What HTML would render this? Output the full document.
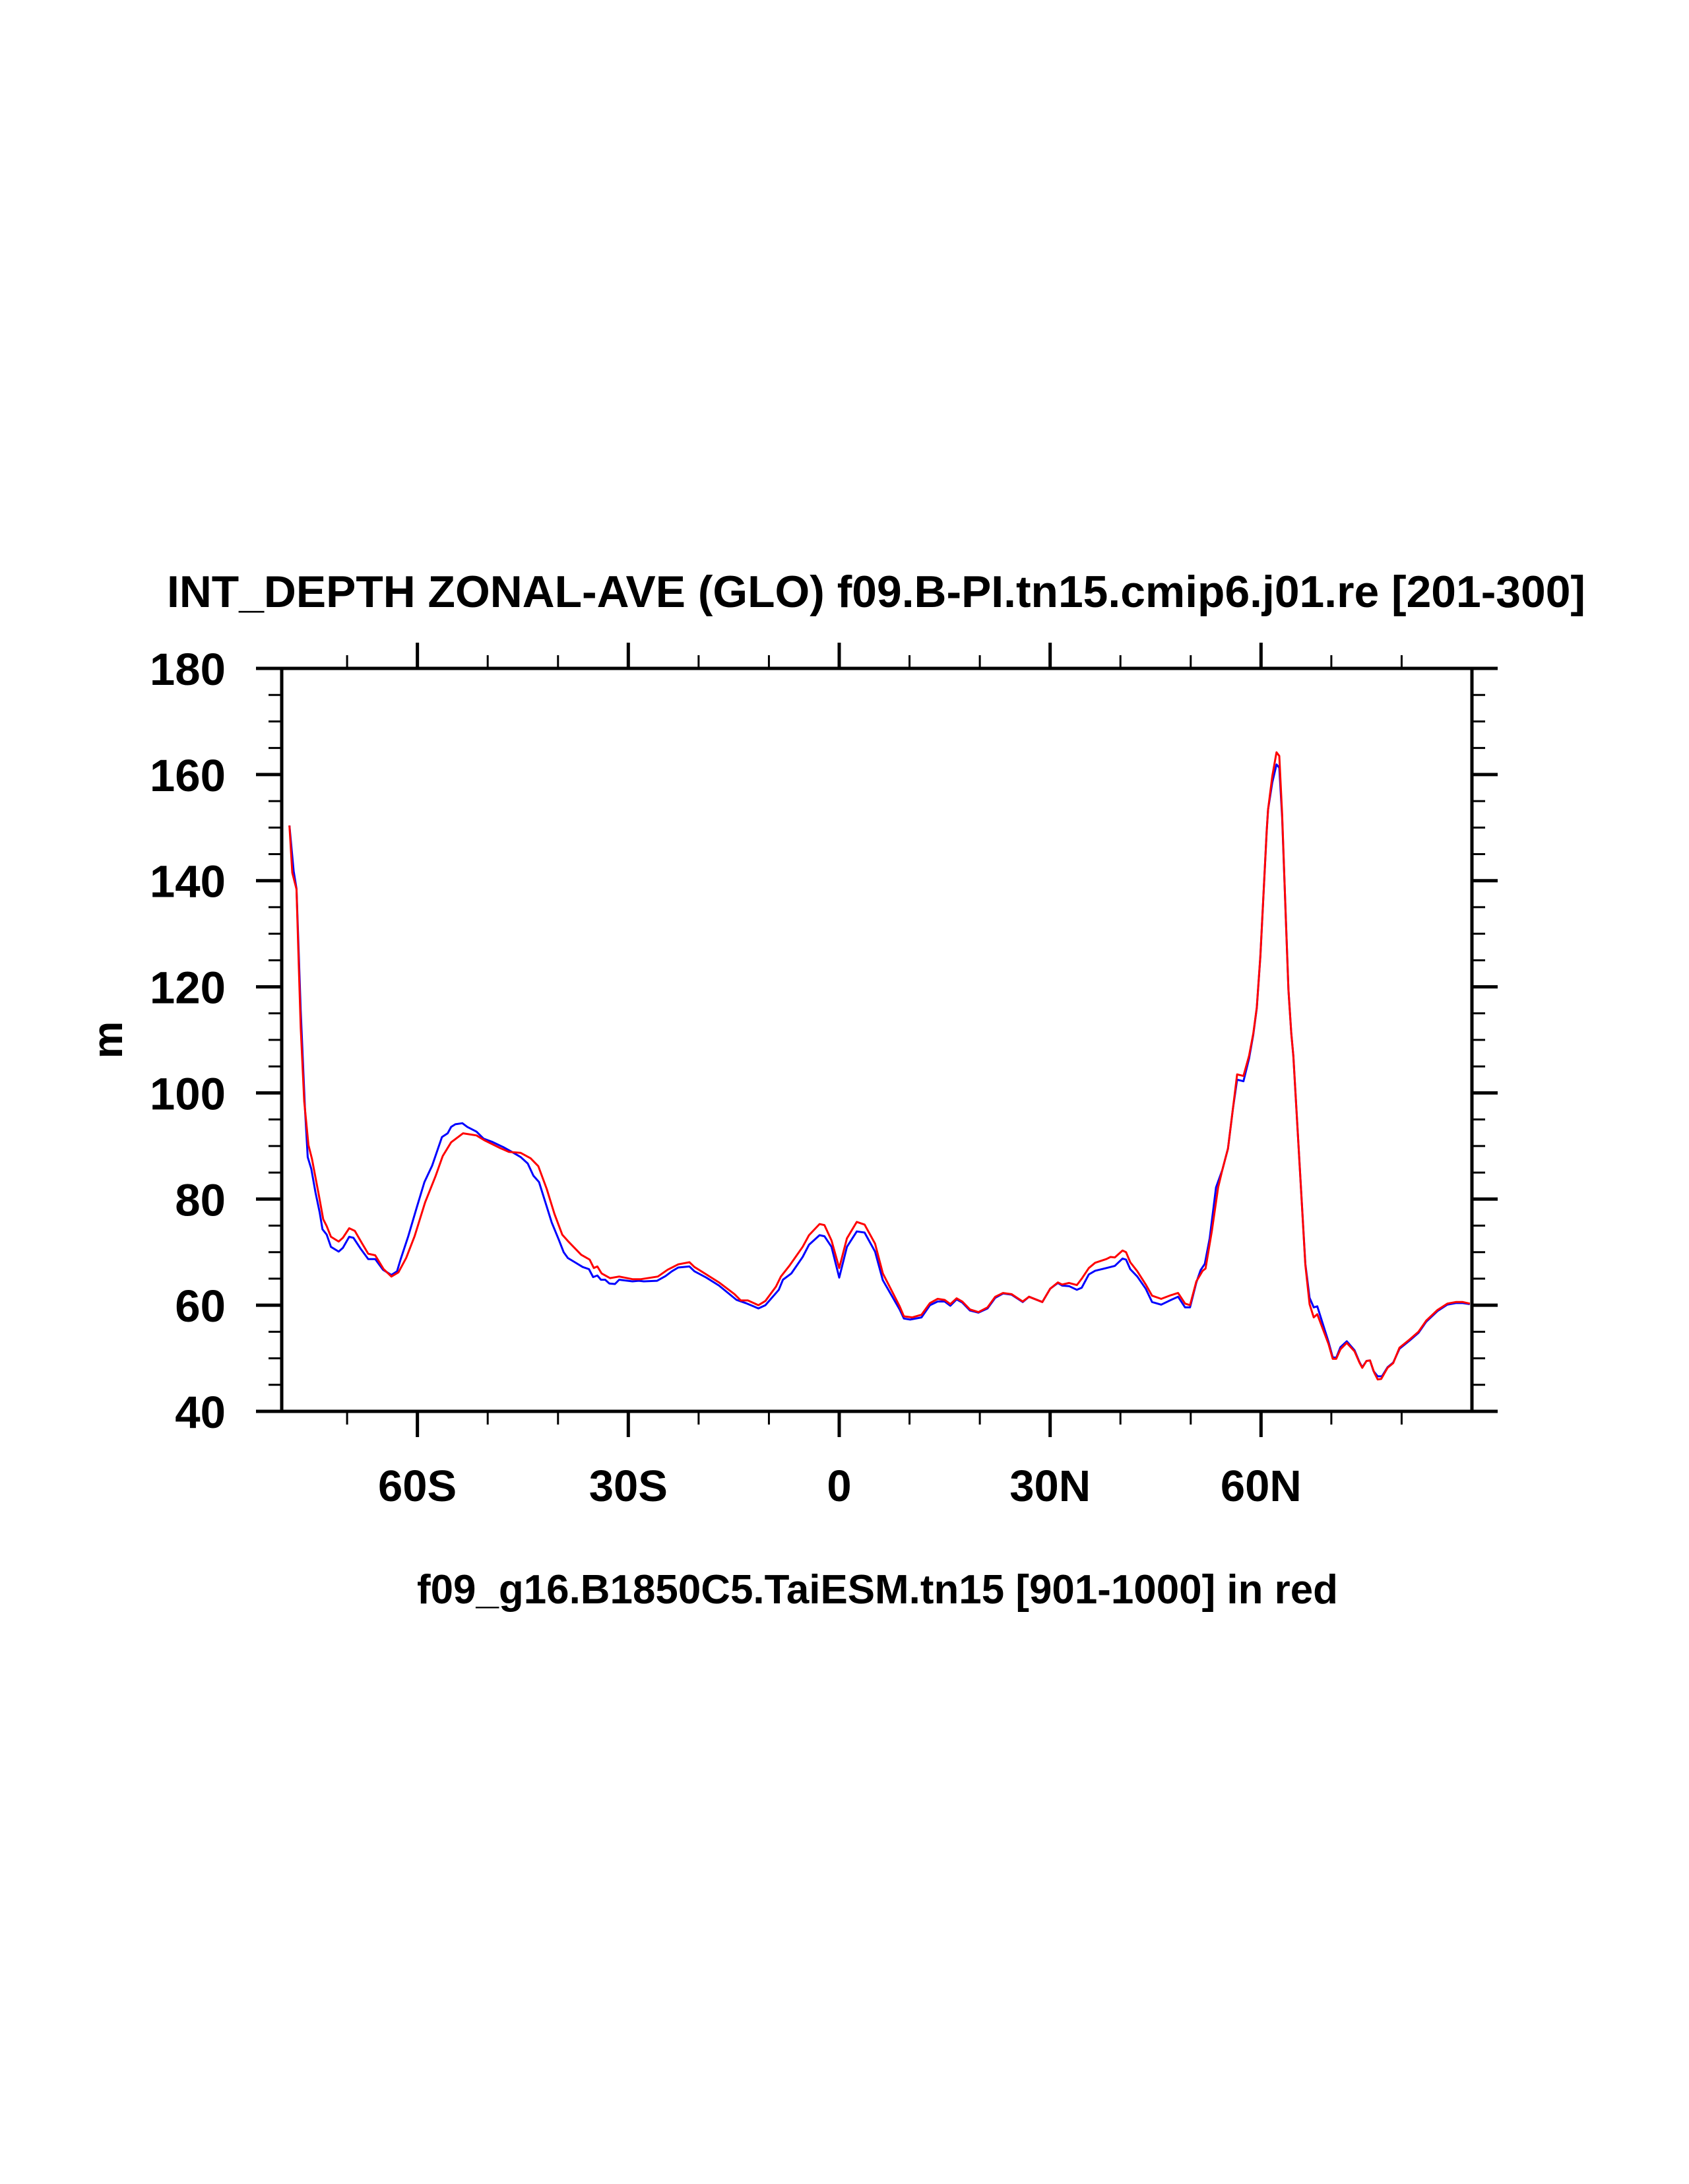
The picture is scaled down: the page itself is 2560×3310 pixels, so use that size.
<!DOCTYPE html>
<html><head><meta charset="utf-8"><style>html,body{margin:0;padding:0;background:#fff}svg{display:block}</style></head>
<body>
<svg id="chart" width="2560" height="3310" viewBox="0 0 2560 3310" xmlns="http://www.w3.org/2000/svg" font-family="'Liberation Sans', sans-serif" font-weight="bold">
<rect x="0" y="0" width="2560" height="3310" fill="#fff"/>
<text x="253" y="920" font-size="68" textLength="2150" lengthAdjust="spacingAndGlyphs">INT_DEPTH ZONAL-AVE (GLO) f09.B-PI.tn15.cmip6.j01.re [201-300]</text>
<text transform="translate(185,1576) rotate(-90)" text-anchor="middle" font-size="64">m</text>
<text x="1330" y="2430" text-anchor="middle" font-size="62" textLength="1396" lengthAdjust="spacingAndGlyphs">f09_g16.B1850C5.TaiESM.tn15 [901-1000] in red</text>
<g id="ticks"></g>
<g id="labels"></g>
<g id="series"></g>
<rect x="427" y="1013" width="1804" height="1126" fill="none" stroke="#000" stroke-width="5"/>
</svg>
<script>
const yTicks = [40, 60, 80, 100, 120, 140, 160, 180];
const yTickLabels = ["40", "60", "80", "100", "120", "140", "160", "180"];
const xTicks = [-60, -30, 0, 30, 60];
const xTickLabels = ["60S", "30S", "0", "30N", "60N"];
const xMinor = [-70, -50, -40, -20, -10, 10, 20, 40, 50, 70, 80];
const latRed = [-78.2,-77.8,-77.2,-76.9,-76.6,-76.1,-75.5,-75.0,-74.0,-73.4,-72.9,-72.3,-71.2,-70.6,-69.7,-68.9,-67.9,-67.0,-66.0,-64.8,-63.7,-62.7,-61.6,-60.4,-58.9,-57.4,-56.4,-55.2,-53.5,-51.6,-50.5,-48.2,-47.0,-45.3,-43.9,-42.8,-41.6,-40.5,-39.4,-38.6,-36.7,-35.5,-34.9,-34.4,-33.8,-32.6,-31.3,-29.4,-28.2,-25.8,-24.4,-22.9,-21.3,-20.6,-18.9,-17.1,-14.9,-14.0,-13.0,-11.5,-10.5,-9.0,-8.3,-7.1,-5.2,-4.3,-2.8,-2.1,-1.1,0.0,1.1,2.5,3.6,5.1,6.2,8.6,9.2,10.4,11.7,12.9,14.0,15.0,15.8,16.7,17.5,18.6,19.8,21.1,22.2,23.3,24.5,26.1,27.0,28.9,30.0,31.1,31.7,32.7,33.8,34.5,35.5,36.4,38.0,38.6,39.2,40.3,40.8,41.4,42.4,43.6,44.5,45.8,47.2,48.2,49.2,49.9,50.8,51.7,52.1,53.0,53.9,54.5,55.3,56.0,56.6,57.5,58.3,58.9,59.4,59.9,60.3,60.8,61.0,61.6,62.2,62.6,63.0,63.5,63.9,64.3,64.6,65.5,66.3,66.9,67.5,68.0,69.6,70.2,70.7,71.3,72.2,73.3,74.0,74.4,75.0,75.5,76.1,76.6,77.1,78.0,78.8,79.7,81.1,82.4,83.5,85.1,86.5,87.7,88.7,89.7];
const valRed = [150.4,141.5,138.4,125.0,112.3,98.4,90.2,87.6,80.6,76.2,74.9,72.9,72.0,72.7,74.5,74.0,71.7,69.7,69.4,66.8,65.4,66.2,68.9,73.0,79.4,84.4,88.1,90.7,92.4,92.0,91.1,89.6,88.9,88.7,87.7,86.2,81.9,77.2,73.3,72.1,69.5,68.6,67.0,67.3,66.0,65.1,65.4,64.9,64.9,65.4,66.7,67.7,68.1,67.2,65.8,64.3,62.1,60.9,60.9,60.0,60.8,63.5,65.4,67.4,71.0,73.2,75.3,75.1,72.2,67.0,72.6,75.7,75.2,71.6,66.0,59.8,57.9,57.7,58.2,60.4,61.2,61.0,60.2,61.3,60.7,59.2,58.7,59.6,61.6,62.3,62.1,60.7,61.6,60.6,63.1,64.3,63.9,64.2,63.8,65.0,67.0,68.0,68.7,69.1,69.0,70.3,70.0,68.1,66.4,63.9,61.8,61.2,61.9,62.3,60.3,60.0,64.5,66.5,66.9,73.9,82.2,85.5,89.5,97.0,103.5,103.2,107.0,111.2,116.1,125.7,136.0,149.3,153.4,159.7,164.2,163.5,152.6,133.9,119.4,111.2,107.0,86.3,67.6,60.2,57.7,58.3,52.7,49.9,49.9,51.7,52.9,51.3,49.2,48.2,49.5,49.6,47.3,46.0,46.1,48.2,49.1,52.0,53.5,55.0,57.1,59.1,60.3,60.6,60.6,60.3];
const latBlue = [-78.2,-77.6,-77.2,-76.6,-76.0,-75.6,-75.1,-74.5,-73.9,-73.5,-72.9,-72.3,-71.2,-70.6,-69.7,-69.1,-68.1,-67.0,-66.0,-64.9,-63.7,-62.9,-62.4,-61.3,-60.1,-59.0,-57.9,-56.5,-55.7,-55.2,-54.6,-53.6,-52.9,-51.6,-50.6,-49.4,-47.8,-46.7,-45.3,-44.3,-43.5,-42.7,-41.8,-40.9,-39.9,-39.2,-38.6,-37.6,-36.5,-35.6,-35.0,-34.4,-33.9,-33.3,-32.7,-31.9,-31.3,-29.4,-28.5,-27.8,-25.9,-24.7,-23.8,-22.9,-21.3,-20.6,-18.9,-17.1,-14.6,-13.3,-11.5,-10.5,-8.6,-8.0,-6.8,-5.2,-4.3,-2.8,-2.1,-1.1,0.0,1.1,2.5,3.6,5.1,6.2,8.6,9.2,10.1,11.7,12.9,14.0,15.0,15.8,16.7,17.5,18.6,19.8,21.1,22.2,23.3,24.5,26.1,27.0,28.9,30.0,31.1,31.7,32.7,33.8,34.5,35.5,36.4,38.0,39.2,40.3,40.8,41.4,42.4,43.6,44.5,45.8,47.2,48.2,49.2,49.9,50.8,51.4,52.0,52.7,53.6,54.5,55.3,56.0,56.6,57.5,58.3,58.9,59.4,59.9,60.3,60.8,61.0,61.6,62.2,62.6,63.0,63.5,63.9,64.3,64.6,65.5,66.3,66.9,67.5,68.0,69.6,70.2,70.7,71.3,72.2,73.3,74.0,74.4,75.0,75.5,76.0,76.6,77.2,78.0,78.8,79.7,81.1,82.4,83.5,85.1,86.5,87.7,88.7,89.7];
const valBlue = [150.4,141.8,138.5,115.5,97.1,87.9,85.7,81.3,77.5,74.3,73.3,71.0,70.1,70.8,72.9,72.7,70.7,68.7,68.7,66.7,65.7,66.4,68.6,73.0,78.4,83.2,86.3,91.7,92.4,93.6,94.1,94.3,93.6,92.7,91.4,90.8,89.8,89.0,87.9,86.7,84.4,83.2,79.4,75.6,72.4,70.0,68.9,68.1,67.2,66.8,65.3,65.6,64.8,64.8,64.1,64.0,64.8,64.5,64.6,64.5,64.6,65.5,66.4,67.1,67.3,66.4,65.2,63.7,61.0,60.4,59.4,60.0,62.9,64.8,66.0,69.1,71.4,73.2,73.0,71.0,65.2,71.0,73.9,73.7,70.1,64.7,59.2,57.5,57.3,57.7,60.0,60.7,60.7,59.9,61.1,60.5,59.0,58.6,59.4,61.4,62.2,62.0,60.6,61.6,60.6,63.1,64.2,63.7,63.6,62.9,63.3,65.8,66.5,67.0,67.4,68.8,68.6,66.8,65.4,63.1,60.6,60.1,61.0,61.6,59.6,59.6,64.3,66.6,67.8,72.6,82.2,85.5,89.5,97.0,102.5,102.2,106.5,111.0,116.0,125.7,136.0,149.3,153.4,158.5,161.9,161.3,152.0,134.0,119.4,111.2,107.0,86.3,67.8,61.4,59.6,59.8,53.1,50.2,50.1,52.1,53.2,51.5,49.3,48.3,49.5,49.6,47.6,46.6,46.6,48.3,49.2,51.8,53.3,54.8,56.9,58.9,60.1,60.4,60.4,60.2];

const X0 = 427, X1 = 2231, Y0 = 2139, Y1 = 1013;
const xMin = -79.3, xMax = 90, yMin = 40, yMax = 180;
function xs(v){ return X0 + (v - xMin) / (xMax - xMin) * (X1 - X0); }
function ys(v){ return Y0 - (v - yMin) / (yMax - yMin) * (Y0 - Y1); }
const NS = "http://www.w3.org/2000/svg";
const tg = document.getElementById('ticks');
const lg = document.getElementById('labels');
const sg = document.getElementById('series');
function line(x1,y1,x2,y2,w,name){
  const l = document.createElementNS(NS,'line');
  l.setAttribute('x1',x1); l.setAttribute('y1',y1); l.setAttribute('x2',x2); l.setAttribute('y2',y2);
  l.setAttribute('stroke','#000'); l.setAttribute('stroke-width',w);
  
  
  tg.appendChild(l);
}
yTicks.forEach((v,i)=>{
  const y = ys(v);
  line(X0-39,y,X0,y,5,'y-major-tick');
  line(X1,y,X1+39,y,5,'y-major-tick-right');
  const t = document.createElementNS(NS,'text');
  t.setAttribute('x',342); t.setAttribute('y',y+25);
  t.setAttribute('text-anchor','end'); t.setAttribute('font-size','69');
  t.textContent = yTickLabels[i];
  
  
  lg.appendChild(t);
});
for (let v = yMin; v < yMax; v += 5) {
  if (v % 20 === 0) continue;
  const y = ys(v);
  line(X0-20,y,X0,y,3,'y-minor-tick');
  line(X1,y,X1+20,y,3,'y-minor-tick-right');
}
xTicks.forEach((v,i)=>{
  const x = xs(v);
  line(x,Y0,x,Y0+39,5,'x-major-tick');
  line(x,Y1-39,x,Y1,5,'x-major-tick-top');
  const t = document.createElementNS(NS,'text');
  t.setAttribute('x',x); t.setAttribute('y',2275);
  t.setAttribute('text-anchor','middle'); t.setAttribute('font-size','67');
  t.textContent = xTickLabels[i];
  
  
  lg.appendChild(t);
});
xMinor.forEach(v=>{
  const x = xs(v);
  line(x,Y0,x,Y0+20,3,'x-minor-tick');
  line(x,Y1-20,x,Y1,3,'x-minor-tick-top');
});
function drawSeries(lats, vals, color, name){
  const p = document.createElementNS(NS,'polyline');
  p.setAttribute('points', lats.map((la,i)=>xs(la).toFixed(1)+','+ys(vals[i]).toFixed(1)).join(' '));
  p.setAttribute('fill','none'); p.setAttribute('stroke',color); p.setAttribute('stroke-width','3');
  p.setAttribute('stroke-linejoin','round');
  
  
  sg.appendChild(p);
}
drawSeries(latBlue, valBlue, '#0000ff', 'blue-series-line');
drawSeries(latRed, valRed, '#ff0000', 'red-series-line');
</script>
</body></html>
